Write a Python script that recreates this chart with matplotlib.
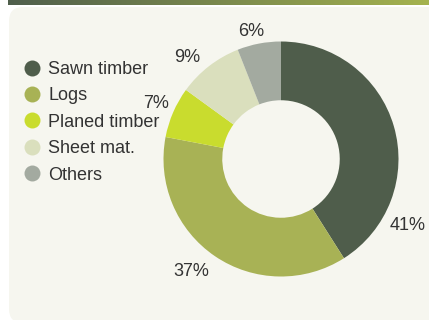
import matplotlib
matplotlib.use("Agg")
import matplotlib.pyplot as plt
import numpy as np
from matplotlib.patches import FancyBboxPatch
from matplotlib.lines import Line2D
from matplotlib.colors import LinearSegmentedColormap

plt.rcParams['font.family'] = ['Liberation Sans', 'DejaVu Sans']

# data
categories = ['Sawn timber', 'Logs', 'Planed timber', 'Sheet mat.', 'Others']
shares = [41, 37, 7, 9, 6]
colors = ['#4f5d4b', '#a8b255', '#c9dc2e', '#dadfbd', '#a3aaa0']

# label positions in pixels (x, y from top)
label_pos = [(408, 225), (191, 271), (156, 104), (187, 58), (251, 31)]

W, H = 429, 320
fig = plt.figure(figsize=(W / 100, H / 100), dpi=100)
ax = fig.add_axes([0, 0, 1, 1])

# panel background
panel = FancyBboxPatch((9, -3), 440, H - 7 + 3,
                       boxstyle="round,pad=0,rounding_size=14",
                       facecolor='#f6f6ef', edgecolor='none', zorder=0)
ax.add_patch(panel)

# header gradient bar
grad = np.linspace(0, 1, 256).reshape(1, -1)
hdr = LinearSegmentedColormap.from_list('hdr', ['#4f5e4b', '#a5b34f'])
ax.imshow(grad, cmap=hdr, extent=(8, W, H - 5, H), aspect='auto', zorder=1)

cx, cy, r = 281, H - 159, 117.5
ax.pie(shares, colors=colors, startangle=90, counterclock=False,
       radius=r, center=(cx, cy), frame=True,
       wedgeprops=dict(width=r * 0.5, edgecolor='none'))

for (x, y), v in zip(label_pos, shares):
    ax.text(x, H - y, f'{v}%', ha='center', va='center',
            fontsize=13, color='#333333')

handles = [Line2D([], [], marker='o', linestyle='none', markersize=11.5,
                  markerfacecolor=c, markeredgecolor='none') for c in colors]
ax.legend(handles, categories, loc='upper left', bbox_to_anchor=(12 / W, 1 - 52 / H),
          frameon=False, fontsize=13, handletextpad=0.3, labelspacing=0.52,
          handlelength=1.2, borderpad=0, labelcolor='#333333')

ax.set_xlim(0, W)
ax.set_ylim(0, H)
ax.axis('off')

fig.savefig('out.png', dpi=100, facecolor='white')
